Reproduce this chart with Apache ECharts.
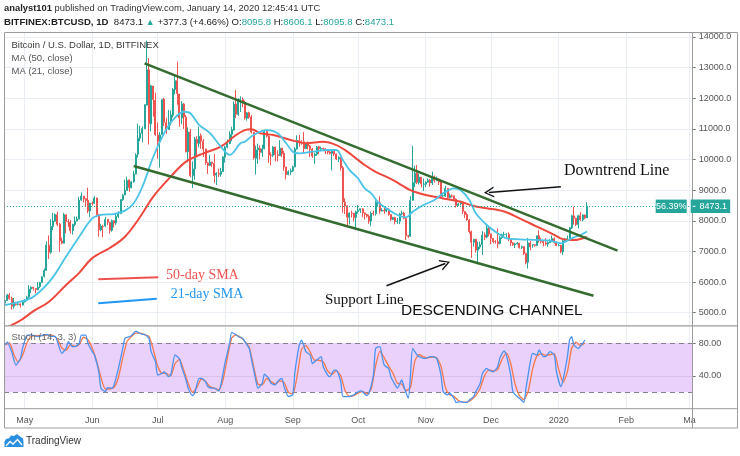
<!DOCTYPE html>
<html><head><meta charset="utf-8">
<script src="https://cdn.jsdelivr.net/npm/echarts@6/dist/echarts.min.js"></script>
<style>html,body{margin:0;padding:0;background:#fff}#c{width:740px;height:456px}</style>
</head><body><div id="c"></div>
<script>
// ---------- DATA ----------
const startDate = [2019, 3, 22];      // 22 Apr 2019 (first category)
const dayCount = 316;                 // through 2 Mar 2020
const tickDates = ['2019-05-01','2019-06-01','2019-07-01','2019-08-01','2019-09-01','2019-10-01','2019-11-01','2019-12-01','2020-01-01','2020-02-01','2020-03-01'];
const tickLabels = ['May','Jun','Jul','Aug','Sep','Oct','Nov','Dec','2020','Feb','Ma'];
const priceTicks = [5000,6000,7000,8000,9000,10000,11000,12000,13000,14000];
const stochTicks = [40, 80];
const lastClose = 8473.1;

// [open, close, low, high] daily from 22 Apr 2019
const candles = [
[5312,5399,5283,5480],[5399,5573,5380,5610],[5571,5465,5420,5640],[5466,5211,5100,5520],[5210,5279,5130,5480],
[5279,5268,5235,5340],[5271,5285,5233,5350],[5284,5247,5170,5310],[5247,5350,5230,5400],[5350,5402,5340,5440],
[5402,5505,5390,5540],[5505,5768,5490,5900],[5770,5831,5640,5860],[5831,5795,5720,5840],[5791,5746,5630,5800],
[5745,5829,5740,6000],[5849,5982,5800,6010],[5982,6174,5980,6180],[6187,6379,6150,6440],[6377,7204,6370,7330],
[7203,6972,6750,7520],[6971,7814,6920,8050],[7807,7994,7690,8260],[7989,8205,7960,8240],[8194,7884,7820,8300],
[7886,7343,6990,7930],[7341,7271,7230,7450],[7267,8197,7260,8260],[8196,7979,7590,8200],[7977,7963,7800,8050],
[7957,7680,7580,8030],[7677,7881,7550,7900],[7881,7988,7820,8140],[7991,8052,7980,8140],[8055,8673,8040,8780],
[8674,8805,8650,8930],[8803,8719,8600,8810],[8719,8660,8480,8740],[8661,8319,8250,9080],[8320,8574,8120,8590],
[8573,8564,8500,8630],[8566,8742,8560,8800],[8742,8209,8120,8750],[8210,7707,7480,8210],[7705,7824,7660,7900],
[7822,7812,7460,7870],[7827,8044,7790,8130],[8046,7954,7860,8050],[7948,7688,7580,7960],[7692,8001,7640,8040],
[8002,7928,7780,8010],[7927,8145,7860,8230],[8145,8231,8090,8310],[8230,8693,8220,8700],[8689,8838,8650,8870],
[8841,8994,8840,9340],[8988,9320,8980,9440],[9335,9082,8950,9350],[9078,9273,9060,9300],[9274,9529,9240,9630],
[9525,10144,9525,10200],[10175,10701,10070,11170],[10696,10855,10600,11100],[10853,11011,10560,11080],[11008,11790,10990,11800],
[11779,12930,11760,13880],[12930,11182,10490,13310],[11162,12407,10920,12440],[12400,11959,11400,12400],[11931,10817,10770,12180],
[10796,10583,10020,11210],[10588,10801,9730,10900],[10818,11961,10800,11960],[11972,11215,11090,12010],[11203,10978,10840,11360],
[10982,11208,10970,11620],[11217,11451,11110,11600],[11446,12285,11370,12330],[12284,12574,12130,12780],[12571,12157,11790,13190],
[12139,11358,11070,12140],[11354,11815,11150,11910],[11813,11392,11000,11840],[11381,10256,10230,11450],[10257,10896,9910,11050],
[10896,9477,9420,11000],[9472,9694,9070,9940],[9698,10666,9340,10740],[10653,10531,10120,10760],[10525,10760,10400,11070],
[10777,10599,10350,10850],[10596,10343,10080,10670],[10346,9900,9830,10350],[9887,9811,9530,9920],[9809,9911,9780,10150],
[9913,9871,9760,9930],[9871,9477,9240,10180],[9491,9552,9170,9590],[9548,9519,9430,9700],[9522,9607,9440,9730],
[9604,10085,9600,10110],[10077,10399,9900,10450],[10402,10518,10370,10650],[10519,10821,10500,10920],[10821,10970,10600,11070],
[10960,11805,10950,11900],[11811,11478,11350,12270],[11476,11941,11420,12000],[11954,11966,11550,12060],[11953,11862,11710,12030],
[11861,11354,11300,11920],[11349,11523,11270,11550],[11528,11382,11330,11560],[11385,10895,10850,11450],[10889,10052,10000,10890],
[10038,10311,9510,10450],[10319,10375,9860,10520],[10358,10231,10000,10460],[10233,10345,10080,10480],[10350,10918,10330,10930],
[10916,10764,10720,10950],[10764,10142,9890,10780],[10142,10131,9810,10230],[10136,10407,10080,10440],[10408,10159,9940,10420],
[10161,10139,9940,10300],[10127,10370,10120,10630],[10372,10185,10080,10380],[10203,9754,9630,10280],[9756,9510,9350,9760],
[9514,9598,9480,9650],[9597,9630,9500,9700],[9630,9757,9590,9800],[9757,10347,9750,10400],[10345,10623,10320,10790],
[10621,10594,10420,10800],[10588,10575,10480,10630],[10578,10353,10200,10900],[10353,10517,10350,10560],[10518,10441,10330,10590],
[10443,10334,10080,10480],[10336,10115,10050,10380],[10124,10178,9860,10220],[10176,10410,10120,10440],[10415,10360,10170,10440],
[10345,10358,10300,10420],[10356,10347,10280,10390],[10347,10276,10180,10370],[10281,10241,10170,10290],[10247,10198,10160,10270],
[10200,10267,9650,10300],[10266,10181,10110,10280],[10183,10019,9980,10190],[10024,10070,9920,10100],[10067,9729,9640,10070],
[9729,8620,8260,9790],[8603,8487,8220,8730],[8487,8118,7860,8500],[8113,8251,7880,8270],[8251,8245,8110,8330],
[8246,8104,7980,8250],[8104,8293,7730,8330],[8299,8343,8230,8510],[8345,8393,8250,8400],[8391,8259,8120,8410],
[8259,8205,8040,8260],[8210,8151,8100,8220],[8149,7988,7900,8200],[7989,8245,7820,8300],[8246,8228,8170,8330],
[8229,8595,8170,8660],[8585,8586,8460,8650],[8585,8321,8230,8800],[8315,8336,8300,8410],[8336,8321,8230,8450],
[8320,8374,8280,8400],[8373,8205,8160,8410],[8204,8047,7990,8220],[8048,8103,8020,8130],[8101,7973,7880,8130],
[7973,7988,7900,8090],[7987,8223,7890,8260],[8224,8243,8180,8330],[8243,8078,8050,8300],[8076,7514,7370,8080],
[7509,7493,7440,7540],[7490,8661,7480,8800],[8667,9244,8660,10450],[9241,9551,9100,9800],[9565,9256,9200,9820],
[9248,9427,9180,9540],[9423,9205,9090,9430],[9193,9199,8970,9380],[9194,9261,9100,9290],[9260,9324,9240,9380],
[9324,9235,9120,9360],[9235,9413,9170,9600],[9414,9320,9250,9480],[9320,9360,9290,9440],[9360,9267,9170,9390],
[9268,8804,8740,9300],[8809,8813,8780,8920],[8812,9055,8780,9140],[9059,8757,8700,9070],[8759,8815,8720,8890],
[8812,8809,8760,8860],[8811,8708,8650,8820],[8706,8491,8430,8730],[8491,8550,8480,8580],[8549,8577,8500,8660],
[8573,8309,8220,8580],[8305,8206,8090,8310],[8203,8027,8000,8260],[8023,7643,7580,8050],[7643,7296,6790,7680],
[7296,7397,7150,7400],[7398,7047,6960,7400],[7039,7146,6580,7320],[7145,7218,7080,7320],[7220,7531,6880,7660],
[7536,7463,7370,7620],[7466,7762,7430,7860],[7764,7569,7490,7820],[7571,7424,7230,7580],[7425,7321,7260,7440],
[7323,7320,7250,7370],[7320,7252,7100,7750],[7253,7448,7230,7500],[7450,7546,7400,7580],[7548,7556,7490,7640],
[7551,7564,7450,7590],[7561,7400,7330,7620],[7397,7278,7180,7420],[7277,7218,7180,7300],[7216,7243,7110,7280],
[7244,7269,7220,7310],[7268,7124,7090,7280],[7124,7152,7080,7190],[7153,6932,6880,7170],[6932,6640,6580,6960],
[6647,7277,6440,7440],[7277,7150,7040,7350],[7208,7218,7120,7230],[7220,7191,7150,7230],[7191,7511,7170,7520],
[7508,7355,7280,7690],[7354,7322,7260,7440],[7325,7275,7160,7360],[7274,7238,7190,7440],[7238,7290,7150,7330],
[7289,7317,7270,7400],[7317,7422,7300,7520],[7420,7293,7250,7460],[7294,7193,7170,7330],[7194,7200,7170,7250],
[7202,6985,6940,7210],[6984,7345,6880,7400],[7345,7411,7280,7430],[7410,7411,7370,7520],[7410,7769,7400,7800],
[7768,8163,7730,8200],[8161,8080,7880,8460],[8082,7879,7830,8090],[7878,8166,7750,8200],[8162,8037,8000,8280],
[8033,8192,7980,8200],[8189,8096,8050,8200],[8095.8,8473.1,8095.8,8606.1]
];

// moving averages: [day index, value]
const ma50 = [[0,4480],[8,4790],[13,5050],[20,5350],[28,5900],[34,6300],[40,6780],[48,7110],[55,7480],[62,8130],
[68,8790],[76,9440],[83,9930],[91,10200],[99,10420],[106,10800],[110,10960],[113,10990],[117,10860],[123,10800],
[131,10640],[138,10530],[146,10580],[152,10470],[157,10260],[161,10040],[165,9820],[170,9600],[178,9330],[186,9000],
[193,8840],[201,8730],[209,8620],[215,8480],[221,8410],[229,8300],[236,8080],[244,7810],[252,7540],[256,7400],[261,7370],[267,7470]];
const ma21 = [[0,5250],[7,5360],[13,5520],[21,6070],[28,6830],[34,7480],[40,8080],[44,8190],[50,8220],[55,8330],
[59,8570],[63,9110],[68,10090],[73,10860],[77,11290],[82,11560],[85,11510],[89,11130],[94,10860],[99,10420],
[103,10150],[108,10530],[110,10580],[114,10800],[120,10960],[125,10860],[129,10530],[132,10255],[135,10200],[141,10255],
[148,10310],[152,10310],[155,9980],[158,9660],[162,9380],[165,9060],[168,8897],[171,8620],[175,8407],[180,8190],
[184,8114],[187,8297],[192,8515],[197,8679],[201,8897],[206,9060],[209,9005],[213,8679],[216,8244],[221,7862],
[226,7591],[230,7428],[236,7395],[244,7373],[250,7350],[255,7265],[258,7350],[261,7460],[264,7536],[267,7650]];

// stochastic (14,3,3): [day index, value]
const stochK = [[0,77.6],[1,81],[3,69.5],[5,53],[7,61],[8,73.5],[10,89],[12,90],[15,87.7],[18,90],[19,90.5],[21,88],[23,88],
[24,81.6],[26,67.4],[28,73.5],[29,81.6],[31,75.5],[32,75.5],[34,79.6],[35,89.7],[37,89.7],[38,79.6],[40,69.5],[41,65.4],
[43,45],[44,25],[46,20.8],[47,25.7],[49,25],[50,29],[52,49],[54,73.5],[55,85.7],[57,87.7],[58,89],[60,94.6],[61,93],
[63,90.5],[64,90.5],[66,85.7],[67,69.5],[69,57],[70,41],[72,43],[73,45],[75,39],[76,41],[78,65.4],[80,61],[81,51],
[83,35],[84,25],[86,16],[87,19],[89,37],[90,37],[92,33],[93,27],[95,25],[96,25],[98,21.6],[99,29],[101,57],[103,79.6],
[104,93],[106,90],[107,87.7],[109,85.7],[110,81.6],[112,73.5],[113,61],[115,35],[116,25],[118,31],[119,42],[121,37],
[122,31],[124,29],[125,33],[127,37],[128,27],[130,15],[132,17],[133,45],[135,77.6],[136,83.6],[137,77.6],[138,69.5],
[140,65.4],[141,55],[143,59.3],[145,63.4],[146,51.2],[148,41],[149,39],[151,47],[152,47],[154,33],[155,14.7],[157,14.7],
[158,14.7],[160,16.8],[161,18.8],[163,21.6],[164,20.8],[166,16],[167,18.8],[169,41],[170,73.5],[172,75.5],[173,63.4],
[174,53],[176,49],[177,39],[179,29],[180,25],[182,35],[183,27],[185,12.7],[186,41],[187,73.5],[189,65.4],[190,63.4],
[192,61.3],[193,61.3],[195,63.4],[196,63.4],[198,61.3],[200,41],[201,20.8],[203,16.8],[204,18.8],[206,12.7],[207,7.4],
[209,8.6],[210,7.8],[212,7.8],[213,10.7],[215,14.7],[216,20.8],[218,31],[219,43],[221,49],[222,47],[224,45],[226,51.2],
[227,61.3],[229,70.3],[230,65.4],[232,41],[233,20.8],[235,14.7],[236,12.7],[238,7.8],[239,25],[241,57],[242,67.4],
[244,65.4],[245,71.5],[247,63.4],[248,63.4],[250,69.5],[252,65.4],[253,45],[255,27],[256,35],[258,63.4],[259,83.6],
[260,87.7],[261,77.6],[263,73.5],[265,79.6],[266,83.6]];
const stochD = [[0,78],[2,80],[4,66],[6,57],[8,65],[10,80],[12,88],[15,89],[18,89],[20,90],[22,89],[24,85],[26,74],[28,71],
[30,78],[32,76],[34,78],[36,87],[38,84],[40,74],[42,58],[44,38],[46,24],[48,24],[50,26],[52,38],[54,62],[56,82],[58,88],
[60,92],[62,92],[64,90],[66,88],[68,72],[70,52],[72,43],[74,43],[76,40],[78,55],[80,60],[82,47],[84,31],[86,20],[88,26],
[90,36],[92,33],[94,27],[96,25],[98,23],[100,35],[102,62],[104,86],[106,90],[108,87],[110,82],[112,75],[114,52],[116,30],
[118,29],[120,37],[122,33],[124,30],[126,34],[128,32],[130,20],[132,18],[134,40],[136,72],[138,77],[140,69],[142,59],
[144,59],[146,57],[148,46],[150,42],[152,46],[154,40],[156,22],[158,15],[160,16],[162,19],[164,21],[166,18],[168,24],
[170,52],[172,70],[174,62],[176,52],[178,43],[180,31],[182,30],[184,22],[186,26],[188,58],[190,66],[192,63],[194,62],
[196,63],[198,62],[200,52],[202,26],[204,17],[206,15],[208,10],[210,8],[212,8],[214,11],[216,16],[218,25],[220,40],
[222,47],[224,46],[226,48],[228,60],[230,68],[232,55],[234,30],[236,16],[238,11],[240,21],[242,48],[244,64],[246,67],
[248,65],[250,66],[252,67],[254,48],[256,32],[258,45],[260,74],[262,81],[264,77],[266,80]];

// drawn trendlines & arrows (date, price)
const upperTrend = [['2019-06-25',13141],['2020-01-28',7023]];
const lowerTrend = [['2019-06-20',9788],['2020-01-17',5554]];
const downArrow = [['2019-11-30',8925],['2020-01-02',9113]];   // [tip, tail]
const supportArrow = [['2019-11-10',6605],['2019-10-14',5881]]; // [tip, tail]

// ---------- CHART ----------
const categories = [];
for (let i = 0; i < dayCount; i++) {
  const d = new Date(Date.UTC(startDate[0], startDate[1], startDate[2] + i));
  categories.push(d.toISOString().slice(0, 10));
}
const isTick = (i, v) => tickDates.indexOf(v) >= 0;
const tickFmt = v => { const k = tickDates.indexOf(v); return k >= 0 ? tickLabels[k] : ''; };

const UP = '#26a69a', DOWN = '#ef5350', GRIDC = '#e9eef4', FRAME = '#9c9c9c';
const chevron = 'path://M6,0 L12,12 L10.4,12 L6,3 L1.6,12 L0,12 Z';
const sans = '"Liberation Sans", Arial, sans-serif';
const serif = '"Liberation Serif", "Times New Roman", serif';

const chart = echarts.init(document.getElementById('c'), null, { renderer: 'canvas' });

const xBase = {
  type: 'category', data: categories, boundaryGap: true,
  axisLine: { show: false }, axisTick: { show: false },
  splitLine: { show: true, interval: isTick, alignWithLabel: true, lineStyle: { color: GRIDC, width: 1 } }
};

chart.setOption({
  animation: false,
  backgroundColor: '#ffffff',
  grid: [
    { left: 4, right: 47.3, top: 32, height: 293, outerBoundsMode: 'none', containLabel: false },
    { left: 4, right: 47.3, top: 326.6, height: 82.1, outerBoundsMode: 'none', containLabel: false }
  ],
  xAxis: [
    Object.assign({}, xBase, { gridIndex: 0, axisLabel: { show: false } }),
    Object.assign({}, xBase, { gridIndex: 1, axisLabel: { show: true, interval: isTick, formatter: tickFmt, color: '#555', fontSize: 9, fontFamily: sans, margin: 7 } })
  ],
  yAxis: [
    { type: 'value', gridIndex: 0, position: 'right', min: 4597, max: 14163,
      axisLine: { show: false }, splitLine: { show: false },
      axisTick: { show: true, customValues: priceTicks, length: 3, inside: false, lineStyle: { color: '#777' } },
      axisLabel: { customValues: priceTicks, formatter: v => Number(v).toFixed(1), color: '#555', fontSize: 9, fontFamily: sans, margin: 6 } },
    { type: 'value', gridIndex: 1, position: 'right', min: 0, max: 100,
      axisLine: { show: false }, splitLine: { show: false },
      axisTick: { show: true, customValues: stochTicks, length: 3, lineStyle: { color: '#777' } },
      axisLabel: { customValues: stochTicks, formatter: v => Number(v).toFixed(2), color: '#555', fontSize: 9, fontFamily: sans, margin: 6 } }
  ],
  series: [
    { // horizontal price grid
      type: 'line', xAxisIndex: 0, yAxisIndex: 0, data: [], z: 0, silent: true,
      markLine: { silent: true, symbol: 'none', z: 0, label: { show: false },
        lineStyle: { color: GRIDC, type: 'solid', width: 1 },
        data: priceTicks.map(v => ({ yAxis: v })) }
    },
    {
      type: 'candlestick', name: 'BTCUSD', xAxisIndex: 0, yAxisIndex: 0, data: candles, barWidth: 1.5, z: 3,
      itemStyle: { color: UP, color0: DOWN, borderColor: UP, borderColor0: DOWN, borderWidth: 1 },
      markLine: {
        silent: true, symbol: 'none', label: { show: false }, z: 6,
        data: [
          { yAxis: lastClose, lineStyle: { type: [1, 2], color: UP, width: 1 } },
          [ { coord: upperTrend[0], lineStyle: { color: '#346c30', width: 2.5, type: 'solid' } }, { coord: upperTrend[1] } ],
          [ { coord: lowerTrend[0], lineStyle: { color: '#346c30', width: 2.5, type: 'solid' } }, { coord: lowerTrend[1] } ],
          [ { coord: downArrow[0], symbol: chevron, symbolSize: [11, 10], lineStyle: { color: '#111', width: 1.6, type: 'solid' } }, { coord: downArrow[1], symbol: 'none' } ],
          [ { coord: supportArrow[0], symbol: chevron, symbolSize: [11, 10], lineStyle: { color: '#111', width: 1.6, type: 'solid' } }, { coord: supportArrow[1], symbol: 'none' } ]
        ]
      }
    },
    { type: 'line', name: 'MA50', xAxisIndex: 0, yAxisIndex: 0, data: ma50, showSymbol: false, smooth: 0.35, z: 4,
      lineStyle: { color: '#f0473d', width: 2 }, itemStyle: { color: '#f0473d' } },
    { type: 'line', name: 'MA21', xAxisIndex: 0, yAxisIndex: 0, data: ma21, showSymbol: false, smooth: 0.35, z: 4,
      lineStyle: { color: '#4ac3e6', width: 1.8 }, itemStyle: { color: '#4ac3e6' } },
    { type: 'line', name: '%D', xAxisIndex: 1, yAxisIndex: 1, data: stochD, showSymbol: false, smooth: 0.2, z: 3,
      lineStyle: { color: '#f5784a', width: 1.3 }, itemStyle: { color: '#f5784a' },
      markArea: { silent: true, z: 1, itemStyle: { color: '#ead1fb' }, data: [[{ yAxis: 20 }, { yAxis: 80 }]] },
      markLine: { silent: true, symbol: 'none', label: { show: false }, z: 2,
        data: [
          { yAxis: 80, lineStyle: { color: '#858090', type: [5, 4], width: 1 } },
          { yAxis: 20, lineStyle: { color: '#858090', type: [5, 4], width: 1 } },
          { yAxis: 40, lineStyle: { color: 'rgba(140,120,170,0.18)', type: 'solid', width: 1 } }
        ] } },
    { type: 'line', name: '%K', xAxisIndex: 1, yAxisIndex: 1, data: stochK, showSymbol: false, smooth: 0.2, z: 4,
      lineStyle: { color: '#4a93f2', width: 1.3 }, itemStyle: { color: '#4a93f2' } }
  ]
});

// ---------- annotations / frame ----------
const py = chart.convertToPixel({ yAxisIndex: 0 }, lastClose);
const txt = (x, y, text, font, fill, extra, z) => ({
  type: 'text', x: x, y: y, silent: true, z: z || 80,
  style: Object.assign({ text: text, font: font, fill: fill, align: 'left', verticalAlign: 'middle', textAlign: 'left', textVerticalAlign: 'middle' }, extra || {})
});
const ln = (x1, y1, x2, y2, stroke, w, z) => ({ type: 'line', silent: true, z: z || 60, shape: { x1, y1, x2, y2 }, style: { stroke: stroke, lineWidth: w } });

const g = [
  // frame
  { type: 'rect', silent: true, z: 60, shape: { x: 4.5, y: 32.5, width: 733, height: 395.5 }, style: { fill: 'none', stroke: FRAME, lineWidth: 1 } },
  ln(692.5, 32, 692.5, 428, FRAME, 1),
  ln(4, 325.8, 738, 325.8, FRAME, 1.2),
  ln(4, 408.7, 738, 408.7, FRAME, 1),
  // header
  txt(4, 8.5, '{b|analyst101} published on TradingView.com, January 14, 2020 12:45:41 UTC', '9.4px ' + sans, '#333',
      { rich: { b: { fontWeight: 'bold', fontSize: 9.4, fontFamily: sans, fill: '#222' } } }),
  txt(4, 22.5, '{b|BITFINEX:BTCUSD, 1D}  8473.1 {g|▲} +377.3 (+4.66%) O:{t|8095.8} H:{t|8606.1} L:{t|8095.8} C:{t|8473.1}', '9.6px ' + sans, '#222',
      { rich: { b: { fontWeight: 'bold', fontSize: 9.6, fontFamily: sans, fill: '#222' },
                g: { fontSize: 9, fontFamily: sans, fill: UP },
                t: { fontSize: 9.6, fontFamily: sans, fill: UP } } }),
  // pane legends
  txt(11.5, 45.5, 'Bitcoin / U.S. Dollar, 1D, BITFINEX', '9.5px ' + sans, '#3a3a3a'),
  txt(11.5, 58.7, 'MA (50, close)', '9.5px ' + sans, '#555'),
  txt(11.5, 71.5, 'MA (21, close)', '9.5px ' + sans, '#555'),
  txt(11.5, 337, 'Stoch (14, 3, 3)', '9.5px ' + sans, '#666'),
  // last price boxes
  { type: 'rect', silent: true, z: 70, shape: { x: 655.7, y: py - 6.7, width: 31, height: 13.4 }, style: { fill: UP } },
  txt(671.2, py, '56.39%', '9px ' + sans, '#fff', { align: 'center', textAlign: 'center' }, 90),
  { type: 'rect', silent: true, z: 70, shape: { x: 690.7, y: py - 6.7, width: 39.5, height: 13.4 }, style: { fill: UP } },
  ln(692.7, py, 695.5, py, '#fff', 1, 90),
  txt(699.5, py, '8473.1', '9px ' + sans, '#fff', null, 90),
  // drawn annotations
  txt(564, 170.7, 'Downtrend Line', '16px ' + serif, '#111'),
  txt(325, 300, 'Support Line', '15px ' + serif, '#111'),
  txt(401, 310.5, 'DESCENDING CHANNEL', '15.5px ' + sans, '#111'),
  ln(98.3, 279.3, 158.3, 277.3, '#ef5350', 2),
  ln(98.3, 303.3, 156.7, 298.7, '#2196f3', 2),
  txt(166, 275, '50-day SMA', '14px ' + serif, '#ef5350'),
  txt(170.7, 294.3, '21-day SMA', '14px ' + serif, '#2196f3'),
  // footer logo
  { type: 'polygon', silent: true, z: 60, shape: { points: [[4.5,447],[4.5,441.5],[6,439],[9,438.2],[11,435.6],[14,436],[17,434],[20,436.4],[23,438.6],[23.5,442],[23.5,447]] }, style: { fill: '#2a8fe0' } },
  { type: 'polyline', silent: true, z: 61, shape: { points: [[6, 446], [10, 441.5], [13, 444], [17.5, 439.5], [22, 445]] }, style: { stroke: '#fff', lineWidth: 1.3, fill: 'none' } },
  txt(26, 441.7, 'TradingView', '10px ' + sans, '#333')
];
chart.setOption({ graphic: g });
</script>
</body></html>
